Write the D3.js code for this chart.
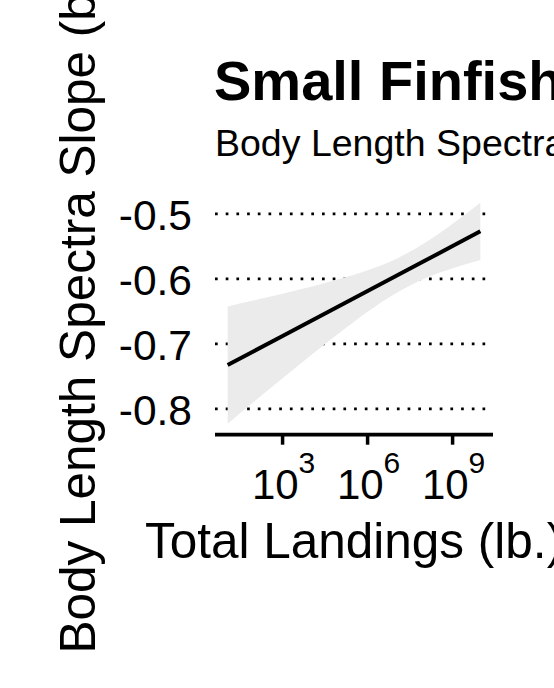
<!DOCTYPE html>
<html>
<head>
<meta charset="utf-8">
<script src="https://cdn.jsdelivr.net/npm/d3@7"></script>
<style>
  html, body { margin: 0; padding: 0; background: #fff; }
  text { font-family: "Liberation Sans", Arial, Helvetica, sans-serif; fill: #000; }
</style>
</head>
<body>
<svg id="chart" width="554" height="688"></svg>
<script>
// ---- data ----
const titleText = "Small Finfish";
const subtitleText = "Body Length Spectra";
const xTitle = "Total Landings (lb.)";
const yTitle = "Body Length Spectra Slope (b)";

// x positions of the fitted line / confidence band (total landings, lb.)
const landings = [11.5, 1e2, 1e3, 1e4, 1e5, 1e6, 1e7, 1e8, 1e9, 9.55e9];
// fitted slope values
const fitSlope = [-0.7326, -0.7109, -0.6879, -0.6648, -0.6418, -0.6187, -0.5956, -0.5726, -0.5495, -0.5268];
// confidence band
const bandUpper = [-0.6425, -0.6330, -0.6228, -0.6120, -0.6003, -0.5868, -0.5692, -0.5453, -0.5152, -0.4827];
const bandLower = [-0.8227, -0.7888, -0.7530, -0.7176, -0.6833, -0.6506, -0.6220, -0.5999, -0.5838, -0.5709];

const yTicks = [-0.8, -0.7, -0.6, -0.5];
const yTickLabels = ["-0.8", "-0.7", "-0.6", "-0.5"];
const xTicks = [1e3, 1e6, 1e9];
const xTickExponents = ["3", "6", "9"];

// ---- layout ----
const svg = d3.select("#chart");
const panel = { left: 215, right: 493, top: 191.6, bottom: 434.7 };

// 5% expansion on each side (as in the original plot)
const lx = landings.map(v => Math.log10(v));
const lxMin = d3.min(lx), lxMax = d3.max(lx);
const padX = (lxMax - lxMin) * 0.05;
const x = d3.scaleLog()
  .domain([Math.pow(10, lxMin - padX), Math.pow(10, lxMax + padX)])
  .range([panel.left, panel.right]);

const yMin = d3.min(bandLower), yMax = d3.max(bandUpper);
const padY = (yMax - yMin) * 0.05;
const y = d3.scaleLinear()
  .domain([yMin - padY, yMax + padY])
  .range([panel.bottom, panel.top]);

const data = landings.map((v, i) => ({ x: v, fit: fitSlope[i], lo: bandLower[i], hi: bandUpper[i] }));

// gridlines (dotted)
svg.append("g").selectAll("line")
  .data(yTicks)
  .join("line")
  .attr("x1", panel.left).attr("x2", panel.right)
  .attr("y1", d => y(d)).attr("y2", d => y(d))
  .attr("stroke", "#000")
  .attr("stroke-width", 2.7)
  .attr("stroke-dasharray", "2.7,8");

// confidence band
svg.append("path")
  .datum(data)
  .attr("fill", "#ebebeb")
  .attr("d", d3.area()
    .x(d => x(d.x))
    .y0(d => y(d.lo))
    .y1(d => y(d.hi))
    .curve(d3.curveMonotoneX));

// fitted line
svg.append("path")
  .datum(data)
  .attr("fill", "none")
  .attr("stroke", "#000")
  .attr("stroke-width", 4)
  .attr("d", d3.line().x(d => x(d.x)).y(d => y(d.fit)));

// x axis
const xAxisG = svg.append("g");
xAxisG.append("line")
  .attr("x1", panel.left).attr("x2", panel.right)
  .attr("y1", panel.bottom).attr("y2", panel.bottom)
  .attr("stroke", "#000").attr("stroke-width", 3.8);
xAxisG.selectAll("line.tick")
  .data(xTicks)
  .join("line")
  .attr("class", "tick")
  .attr("x1", d => x(d)).attr("x2", d => x(d))
  .attr("y1", panel.bottom).attr("y2", panel.bottom + 10)
  .attr("stroke", "#000").attr("stroke-width", 3.5);
const xl = xAxisG.selectAll("text.xl")
  .data(xTicks)
  .join("text")
  .attr("class", "xl")
  .attr("x", d => x(d) + 1)
  .attr("y", 499)
  .attr("text-anchor", "middle")
  .style("font-size", "42px");
xl.append("tspan").text("10");
xl.append("tspan")
  .attr("dy", -26)
  .style("font-size", "30px")
  .text((d, i) => xTickExponents[i]);

// y tick labels
svg.append("g").selectAll("text")
  .data(yTicks)
  .join("text")
  .attr("x", 192)
  .attr("y", d => y(d))
  .attr("dy", "0.38em")
  .attr("text-anchor", "end")
  .style("font-size", "42.5px")
  .text((d, i) => yTickLabels[i]);

// titles
svg.append("text")
  .attr("x", 214).attr("y", 100)
  .style("font-size", "56px").style("font-weight", "bold")
  .text(titleText);
svg.append("text")
  .attr("x", 215).attr("y", 156)
  .style("font-size", "37.5px")
  .text(subtitleText);

svg.append("text")
  .attr("x", (panel.left + panel.right) / 2)
  .attr("y", 557.7)
  .attr("text-anchor", "middle")
  .style("font-size", "49.5px")
  .text(xTitle);

svg.append("text")
  .attr("transform", `translate(95,${(panel.top + panel.bottom) / 2 + 2}) rotate(-90)`)
  .attr("text-anchor", "middle")
  .style("font-size", "49.5px")
  .text(yTitle);
</script>
</body>
</html>
